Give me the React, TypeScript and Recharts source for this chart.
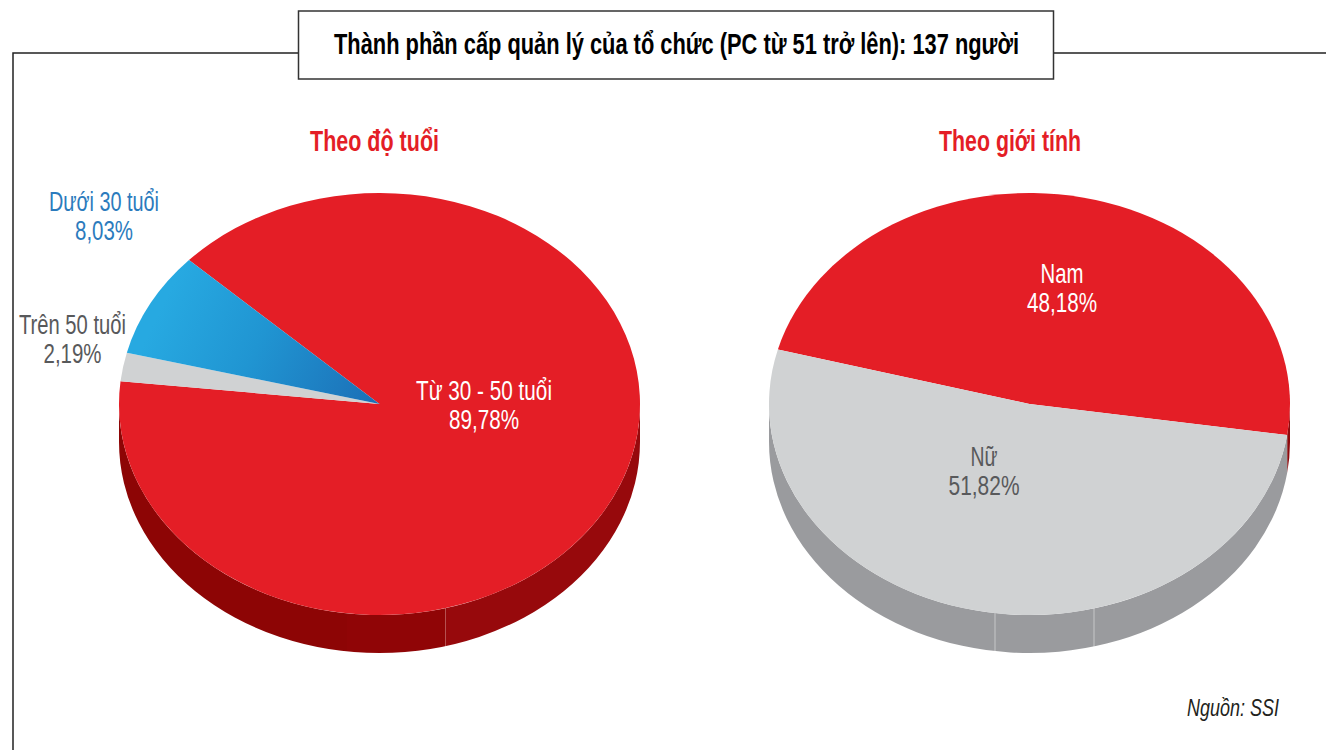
import React from "react";
import { PieChart, Pie, Cell } from "recharts";

const W = 1326;
const H = 750;

// values in percent, as printed on the chart
const AGE_NAMES = ["Từ 30 - 50 tuổi", "Trên 50 tuổi", "Dưới 30 tuổi"];
const AGE_VALUES = [89.78, 2.19, 8.03];
const GENDER_NAMES = ["Nam", "Nữ"];
const GENDER_VALUES = [48.18, 51.82];

const ageData = AGE_NAMES.map((name, i) => ({ name, value: AGE_VALUES[i] }));
const genderData = GENDER_NAMES.map((name, i) => ({ name, value: GENDER_VALUES[i] }));

const TITLE = "Thành phần cấp quản lý của tổ chức (PC từ 51 trở lên): 137 người";

// geometry of the tilted pies
const RX = 260.5;
const RY = 211;
const DEPTH = 38;
const CY = 404;
const AGE_CX = 379.5;
const GENDER_CX = 1029.5;

const FONT = '"Liberation Sans Narrow", "Liberation Sans", sans-serif';

// label placement: center x, first baseline, width of both lines, colour
const LABELS: Record<string, { x: number; y: number; w1: number; w2: number; color: string }> = {
  "Từ 30 - 50 tuổi": { x: 484, y: 400, w1: 136, w2: 70, color: "#ffffff" },
  "Trên 50 tuổi": { x: 72.5, y: 334, w1: 107, w2: 58, color: "#58595b" },
  "Dưới 30 tuổi": { x: 104, y: 211, w1: 110, w2: 58, color: "#2b7bbd" },
  Nam: { x: 1062, y: 283, w1: 43, w2: 70, color: "#ffffff" },
  Nữ: { x: 984, y: 466, w1: 27, w2: 71, color: "#58595b" },
};

function point(cx: number, cy: number, angle: number) {
  const a = (angle * Math.PI) / 180;
  return [cx + RX * Math.cos(a), cy - RY * Math.sin(a)];
}

// top face: a circle slice squashed to an ellipse
function TopSlice(props: any) {
  const { cx, cy, startAngle, endAngle, fill } = props;
  const [x1, y1] = point(cx, cy, startAngle);
  const [x2, y2] = point(cx, cy, endAngle);
  const large = Math.abs(startAngle - endAngle) > 180 ? 1 : 0;
  const sweep = startAngle > endAngle ? 1 : 0;
  return (
    <path
      d={`M${cx},${cy}L${x1},${y1}A${RX},${RY} 0 ${large} ${sweep} ${x2},${y2}Z`}
      fill={fill}
    />
  );
}

// side wall: only the part of a slice in the lower half of the ellipse
function SideSlice(props: any) {
  const { cx, cy, startAngle, endAngle, fill } = props;
  const hi = Math.max(startAngle, endAngle);
  const lo = Math.min(startAngle, endAngle);
  const a = Math.min(hi, 0);
  const b = Math.max(lo, -180);
  if (a <= b) return null;
  const [x1, y1] = point(cx, cy, a);
  const [x2, y2] = point(cx, cy, b);
  return (
    <path
      d={`M${x1},${y1}A${RX},${RY} 0 0 1 ${x2},${y2}L${x2},${y2 + DEPTH}A${RX},${RY} 0 0 0 ${x1},${y1 + DEPTH}Z`}
      fill={fill}
    />
  );
}

function renderLabel(props: any) {
  const place = LABELS[props.name];
  const pct = Number(props.value).toFixed(2).replace(".", ",") + "%";
  const common = {
    textAnchor: "middle" as const,
    fontFamily: FONT,
    fontSize: 27,
    fill: place.color,
    lengthAdjust: "spacingAndGlyphs" as const,
  };
  return (
    <g>
      <text x={place.x} y={place.y} textLength={place.w1} {...common}>
        {props.name}
      </text>
      <text x={place.x} y={place.y + 29} textLength={place.w2} {...common}>
        {pct}
      </text>
    </g>
  );
}

export default function App() {
  return (
    <div style={{ position: "absolute", left: 0, top: 0, width: W, height: H, background: "#fff", overflow: "hidden" }}>
      <PieChart width={W} height={H} margin={{ top: 0, right: 0, bottom: 0, left: 0 }}>
        <defs>
          <linearGradient id="blueFace" gradientUnits="userSpaceOnUse" x1="165" y1="300" x2="370" y2="400">
            <stop offset="0" stopColor="#27a9e1" />
            <stop offset="0.45" stopColor="#2095d2" />
            <stop offset="1" stopColor="#1c71b8" />
          </linearGradient>
          <linearGradient id="redSide" gradientUnits="userSpaceOnUse" x1="119" y1="0" x2="640" y2="0">
            <stop offset="0" stopColor="#8d0505" />
            <stop offset="0.4376" stopColor="#8d0505" />
            <stop offset="0.4376" stopColor="#900506" />
            <stop offset="0.6255" stopColor="#900506" />
            <stop offset="0.6255" stopColor="#b55151" />
            <stop offset="0.6285" stopColor="#b55151" />
            <stop offset="0.6285" stopColor="#97090c" />
            <stop offset="1" stopColor="#97090c" />
          </linearGradient>
          <linearGradient id="greySide" gradientUnits="userSpaceOnUse" x1="769" y1="0" x2="1290" y2="0">
            <stop offset="0" stopColor="#9a9b9e" />
            <stop offset="0.4315" stopColor="#9a9b9e" />
            <stop offset="0.4315" stopColor="#b0b1b3" />
            <stop offset="0.4355" stopColor="#b0b1b3" />
            <stop offset="0.4355" stopColor="#9a9b9e" />
            <stop offset="0.6225" stopColor="#9a9b9e" />
            <stop offset="0.6225" stopColor="#b0b1b3" />
            <stop offset="0.6265" stopColor="#b0b1b3" />
            <stop offset="0.6265" stopColor="#9a9b9e" />
            <stop offset="1" stopColor="#9a9b9e" />
          </linearGradient>
        </defs>

        {/* frame */}
        <path d={`M298,53H13V${H}M1054,53H${W}`} fill="none" stroke="#222" strokeWidth={1.5} />
        <rect x={298.5} y={11} width={755} height={68} fill="#fff" stroke="#333" strokeWidth={1.5} />

        <text x={676.5} y={54} textAnchor="middle" fontFamily={FONT} fontWeight="bold" fontSize={29} fill="#000" textLength={685} lengthAdjust="spacingAndGlyphs">
          {TITLE}
        </text>
        <text x={374.5} y={151} textAnchor="middle" fontFamily={FONT} fontWeight="bold" fontSize={29} fill="#e41e26" textLength={129} lengthAdjust="spacingAndGlyphs">
          Theo độ tuổi
        </text>
        <text x={1010} y={151} textAnchor="middle" fontFamily={FONT} fontWeight="bold" fontSize={29} fill="#e41e26" textLength={142} lengthAdjust="spacingAndGlyphs">
          Theo giới tính
        </text>
        <text x={1233} y={716} textAnchor="middle" fontFamily={FONT} fontStyle="italic" fontSize={23} fill="#231f20" textLength={92} lengthAdjust="spacingAndGlyphs">
          Nguồn: SSI
        </text>

        {/* side walls first, top faces over them */}
        <Pie data={ageData} dataKey="value" nameKey="name" cx={AGE_CX} cy={CY} outerRadius={RX} startAngle={137} endAngle={-223} stroke="none" isAnimationActive={false} shape={SideSlice} legendType="none">
          <Cell fill="url(#redSide)" />
          <Cell fill="#8d0505" />
          <Cell fill="#8d0505" />
        </Pie>
        <Pie data={genderData} dataKey="value" nameKey="name" cx={GENDER_CX} cy={CY} outerRadius={RX} startAngle={165} endAngle={-195} stroke="none" isAnimationActive={false} shape={SideSlice} legendType="none">
          <Cell fill="#8d0a0d" />
          <Cell fill="url(#greySide)" />
        </Pie>

        <Pie data={ageData} dataKey="value" nameKey="name" cx={AGE_CX} cy={CY} outerRadius={RX} startAngle={137} endAngle={-223} stroke="none" isAnimationActive={false} shape={TopSlice} label={renderLabel} labelLine={false}>
          <Cell fill="#e41e26" />
          <Cell fill="#d0d2d3" />
          <Cell fill="url(#blueFace)" />
        </Pie>
        <Pie data={genderData} dataKey="value" nameKey="name" cx={GENDER_CX} cy={CY} outerRadius={RX} startAngle={165} endAngle={-195} stroke="none" isAnimationActive={false} shape={TopSlice} label={renderLabel} labelLine={false}>
          <Cell fill="#e41e26" />
          <Cell fill="#d0d2d3" />
        </Pie>
      </PieChart>
    </div>
  );
}
